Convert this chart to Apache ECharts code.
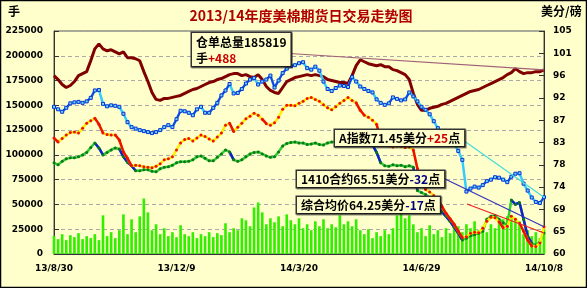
<!DOCTYPE html>
<html><head><meta charset="utf-8">
<script src="https://cdn.jsdelivr.net/npm/echarts@6/dist/echarts.min.js"></script>
<style>html,body{margin:0;padding:0;background:#ffffcc}#c{width:587px;height:288px}</style>
</head><body><div id="c"></div>
<script>
const titleText = '2013/14年度美棉期货日交易走势图';
const tickLabels = ['13/8/30', '13/12/9', '14/3/20', '14/6/29', '14/10/8'];
const tickEvery = 30;
// 仓单总量 (手), left axis
const receipts = [180000,176000,171000,168000,170000,174000,180000,182000,184000,195000,
207000,212000,207000,205000,206000,204000,202000,204000,198000,198000,
197000,195000,184000,174000,163000,156000,155000,157000,157000,158000,
159000,160000,162000,164000,166000,167000,169000,171000,173000,174000,
176000,177000,179000,181000,182000,182000,180000,181000,179000,178000,
181000,176000,169000,165000,163000,162000,168000,174000,176000,178000,
179000,180000,181000,180000,181000,180000,179000,176000,175000,174000,
173000,173000,172000,180000,190000,196000,194000,192000,191000,190000,
191000,189000,189000,186000,185000,183000,181000,176000,162000,151000,
145000,145000,147000,148000,149000,151000,152000,154000,156000,158000,
160000,162000,164000,165000,166000,168000,170000,172000,174000,176000,
178000,181000,183000,187000,184000,182000,183000,183000,184000,184000,185819];
// 日成交量 (手), left axis
const volume = [18000,15000,20000,14000,19000,17000,21000,15000,18000,16000,
20000,14000,39000,18000,22000,16000,24000,40000,20000,35000,
22000,38000,56000,42000,24000,30000,20000,26000,18000,22000,
17000,29000,20000,18000,22000,16000,20000,18000,22000,17000,
21000,19000,31000,22000,26000,24000,36000,34000,28000,47000,
52000,42000,30000,36000,32000,38000,28000,40000,34000,30000,
36000,26000,30000,24000,33000,28000,35000,26000,30000,27000,
39000,30000,33000,28000,35000,24000,20000,25000,16000,22000,
18000,24000,20000,26000,39000,41000,36000,39000,30000,22000,
26000,18000,29000,20000,24000,17000,26000,21000,25000,28000,
22000,30000,26000,33000,24000,28000,22000,30000,26000,33000,
35000,38000,39000,36000,33000,20000,24000,18000,22000,16000,25000];
// A指数 (美分/磅), right axis
const aIndex = [89.7,89.2,88.7,89.5,90.4,90.6,90.7,90.5,90.8,91.5,
93.0,93.1,90.3,89.8,90.0,89.9,89.7,88.3,86.6,85.6,
85.3,85.0,84.8,84.6,84.4,84.6,85.0,85.6,86.0,85.6,
87.2,88.9,88.8,88.5,88.0,89.2,89.7,88.5,88.5,89.5,
90.5,92.0,93.0,94.3,92.4,92.5,93.3,94.4,95.2,95.5,
94.2,94.8,95.2,96.0,93.6,95.0,96.5,97.4,97.9,98.1,
98.5,98.7,97.5,97.2,97.8,97.0,94.8,93.3,92.9,93.5,
94.0,93.9,93.7,95.7,94.8,93.8,93.3,92.9,92.6,91.2,
90.5,90.1,90.4,91.6,91.3,91.0,91.2,92.6,91.8,90.8,
89.7,89.1,88.2,86.8,85.4,84.1,83.5,82.8,82.2,80.8,
79.0,72.6,73.2,73.6,73.4,73.9,74.7,75.0,75.5,75.4,
75.0,74.5,75.6,76.2,76.3,74.2,72.8,71.4,70.5,70.3,71.45];
// 1410合约 (美分/磅), right axis
const contract1410 = [83.4,82.6,83.3,84.0,84.5,84.6,84.4,85.4,86.4,86.9,
87.4,86.2,84.4,84.1,84.0,84.0,83.0,80.6,79.3,77.8,
77.9,77.8,77.6,77.5,77.4,77.7,78.2,79.0,79.2,79.6,
81.0,82.4,83.1,83.3,82.8,83.4,84.0,83.7,83.2,82.8,
83.6,84.4,86.0,86.4,84.7,85.6,86.4,87.3,87.8,88.4,
88.0,87.2,86.3,86.0,86.5,87.6,89.2,90.0,90.0,89.9,
90.4,90.8,91.4,91.6,91.2,90.8,90.1,89.5,89.1,89.7,
90.4,91.0,91.6,91.0,90.5,89.0,88.0,87.6,87.0,86.2,
83.0,82.0,81.8,81.6,81.8,81.7,81.5,81.6,81.0,77.2,
74.8,73.0,72.5,71.8,71.0,69.6,68.2,67.1,66.0,64.6,
63.3,63.5,64.2,64.4,64.3,65.2,66.6,67.4,67.3,66.5,
65.3,65.6,67.6,67.0,66.2,64.6,62.8,61.6,61.5,62.2,65.51];
// 综合均价 (美分/磅), right axis
const compositeAvg = [78.4,78.0,78.7,79.2,79.4,79.4,79.6,80.0,80.5,81.5,
82.4,81.4,80.0,80.5,81.0,81.4,81.2,79.6,78.5,77.8,
76.8,76.8,77.0,77.0,76.7,76.6,77.2,77.5,77.6,77.9,
78.4,78.6,78.6,78.7,79.0,79.6,79.8,79.3,78.8,78.8,
79.5,80.2,81.0,80.6,79.0,78.7,79.0,79.6,80.2,80.5,
80.6,80.2,79.8,79.5,79.6,80.6,81.8,82.3,82.5,82.6,
82.4,82.4,82.1,82.2,82.4,82.1,82.0,82.4,82.6,82.6,
83.0,83.1,83.4,84.6,84.9,84.2,83.5,82.5,82.0,80.5,
78.4,77.8,77.7,78.0,77.8,77.9,77.6,77.8,77.5,72.8,
72.4,72.0,71.3,70.6,69.4,68.5,67.6,66.6,65.4,64.2,
62.8,63.2,63.7,63.9,64.2,64.6,67.0,67.6,67.8,67.0,
66.3,65.9,70.9,70.0,70.4,67.0,63.6,62.2,61.8,62.4,64.25];
const receiptChange = '+488';
const aChange = '+25';
const c1410Change = '-32';
const compChange = '-17';

const N = receipts.length;
const cats = receipts.map((_, i) => String(i));
const lblFont = {fontFamily: 'DejaVu Sans', fontWeight: 'bold', fontSize: 9, color: '#000'};

// keep only points that belong to a rising (dir=1) or falling (dir=-1) step
function steps(arr, dir, minStep) {
  return arr.map((v, i) => {
    const nxt = i < arr.length - 1 ? (arr[i + 1] - v) * dir : -1;
    const prv = i > 0 ? (v - arr[i - 1]) * dir : -1;
    return (nxt > minStep || prv > minStep) ? v : null;
  });
}

const chart = echarts.init(document.getElementById('c'), null, {renderer: 'canvas'});
chart.setOption({
  backgroundColor: '#ffffcc',
  animation: false,
  title: {
    text: titleText, left: 296, top: 4, textAlign: 'center',
    textStyle: {fontFamily: 'Noto Sans CJK SC', fontWeight: 'bold', fontSize: 14, color: '#b00000',
      textShadowColor: '#400000', textShadowOffsetX: 1, textShadowOffsetY: 1, textShadowBlur: 0}
  },
  grid: {left: 54, right: 43, top: 31, bottom: 34, show: true, borderColor: '#555', borderWidth: 1, backgroundColor: 'transparent'},
  xAxis: {
    type: 'category', data: cats, boundaryGap: false,
    axisLine: {lineStyle: {color: '#333'}},
    axisTick: {inside: true, length: 5, interval: (i) => i % tickEvery === 0, lineStyle: {color: '#333'}},
    axisLabel: Object.assign({}, lblFont, {margin: 10, interval: (i) => i % tickEvery === 0,
      formatter: (v, i) => tickLabels[i / tickEvery] || ''}),
    splitLine: {show: false}
  },
  yAxis: [{
    type: 'value', min: 0, max: 225000, interval: 25000,
    axisLine: {show: true, lineStyle: {color: '#333'}},
    axisTick: {show: true, inside: true, length: 5, lineStyle: {color: '#333'}},
    axisLabel: Object.assign({}, lblFont, {margin: 11, formatter: (v) => String(v)}),
    splitLine: {show: true, lineStyle: {color: '#aaa', type: [4, 3], width: 1}}
  }, {
    type: 'value', min: 60, max: 105, interval: 4.5, position: 'right',
    axisLine: {show: true, lineStyle: {color: '#333'}},
    axisTick: {show: true, inside: true, length: 5, lineStyle: {color: '#333'}},
    axisLabel: Object.assign({}, lblFont, {margin: 9, formatter: (v) => String(Math.round(v))}),
    splitLine: {show: false}
  }],
  series: [{
    name: '成交量', type: 'bar', yAxisIndex: 0, data: volume, barWidth: '65%',
    itemStyle: {color: '#33ee00'}, z: 1
  }, {
    name: '仓单总量', type: 'line', yAxisIndex: 0, data: receipts, showSymbol: false,
    lineStyle: {color: '#800000', width: 3}, z: 2
  }, {
    name: '综合均价', type: 'line', yAxisIndex: 1, data: compositeAvg,
    showSymbol: true, showAllSymbol: true, symbol: 'circle', symbolSize: 3,
    itemStyle: {color: '#0b7a1a', borderWidth: 0},
    lineStyle: {color: '#33cc33', width: 2.5}, z: 3
  }, {
    name: '综合均价下跌', type: 'line', yAxisIndex: 1, data: steps(compositeAvg, -1, 0.8),
    showSymbol: false, connectNulls: false,
    lineStyle: {color: '#1020cc', width: 2.5}, z: 3
  }, {
    name: '1410合约', type: 'line', yAxisIndex: 1, data: contract1410,
    showSymbol: true, showAllSymbol: true, symbol: 'circle', symbolSize: 3,
    itemStyle: {color: '#ee1100', borderWidth: 0},
    lineStyle: {color: '#ffee00', width: 2.5}, z: 4
  }, {
    name: '1410合约下跌', type: 'line', yAxisIndex: 1, data: steps(contract1410, -1, 0.8),
    showSymbol: false, connectNulls: false,
    lineStyle: {color: '#ee1100', width: 2.5}, z: 4
  }, {
    name: 'A指数', type: 'line', yAxisIndex: 1, data: aIndex,
    showSymbol: true, showAllSymbol: true, symbol: 'rect', symbolSize: 3,
    itemStyle: {color: '#66ddff', borderColor: '#1030d0', borderWidth: 1},
    lineStyle: {color: '#33ccff', width: 2.5}, z: 5
  }, {
    name: 'A指数上涨', type: 'line', yAxisIndex: 1, data: steps(aIndex, 1, 0.6),
    showSymbol: false, connectNulls: false,
    lineStyle: {color: '#1a40e0', width: 2}, z: 5
  }]
});

const last = N - 1;
const px = (yi, v) => chart.convertToPixel({xAxisIndex: 0, yAxisIndex: yi}, [last, v]);
const eR = px(0, receipts[last]);
const eA = px(1, aIndex[last]);
const eC = px(1, contract1410[last]);
const eG = px(1, compositeAvg[last]);
const boxFont = {fontFamily: 'Noto Sans CJK SC', fontWeight: 'bold', fontSize: 12};
const boxStyle = (text, x, y, rich, lh) => ({
  type: 'text', x: x, y: y, z: 100,
  style: Object.assign({text: text, fill: '#000', backgroundColor: '#ffffcc', borderColor: '#333',
    borderWidth: 1.5, padding: [1, 4, 0, 4], lineHeight: lh || 15, rich: rich,
    shadowColor: 'rgba(0,0,0,0.45)', shadowOffsetX: 1, shadowOffsetY: 1, shadowBlur: 0}, boxFont)
});
const richRed = {r: Object.assign({fill: '#cc0000'}, boxFont), b: Object.assign({fill: '#000080'}, boxFont)};
const lineEl = (x1, y1, p, color) => ({type: 'line', z: 90, shape: {x1: x1, y1: y1, x2: p[0], y2: p[1]},
  style: {stroke: color, lineWidth: 1.2}});

chart.setOption({
  graphic: [
    {type: 'rect', z: 200, shape: {x: 0.5, y: 0.5, width: 586, height: 287}, style: {fill: 'none', stroke: '#000', lineWidth: 1.5}},
    {type: 'text', x: 8, y: 5, style: Object.assign({text: '手', fill: '#000'}, boxFont)},
    {type: 'text', x: 541, y: 5, style: Object.assign({text: '美分/磅', fill: '#000'}, boxFont)},
    lineEl(282, 53, eR, '#a0607a'),
    lineEl(460, 138, eA, '#44dddd'),
    lineEl(443, 178, eC, '#3333bb'),
    lineEl(467, 204, eG, '#ee2222'),
    boxStyle('仓单总量185819\n手{r|' + receiptChange + '}', 192, 33, richRed, 16),
    boxStyle('A指数71.45美分{r|' + aChange + '}点', 335, 130, richRed),
    boxStyle('1410合约65.51美分{b|' + c1410Change + '}点', 297, 171, richRed),
    boxStyle('综合均价64.25美分{b|' + compChange + '}点', 297, 197, richRed)
  ]
});
</script></body></html>
